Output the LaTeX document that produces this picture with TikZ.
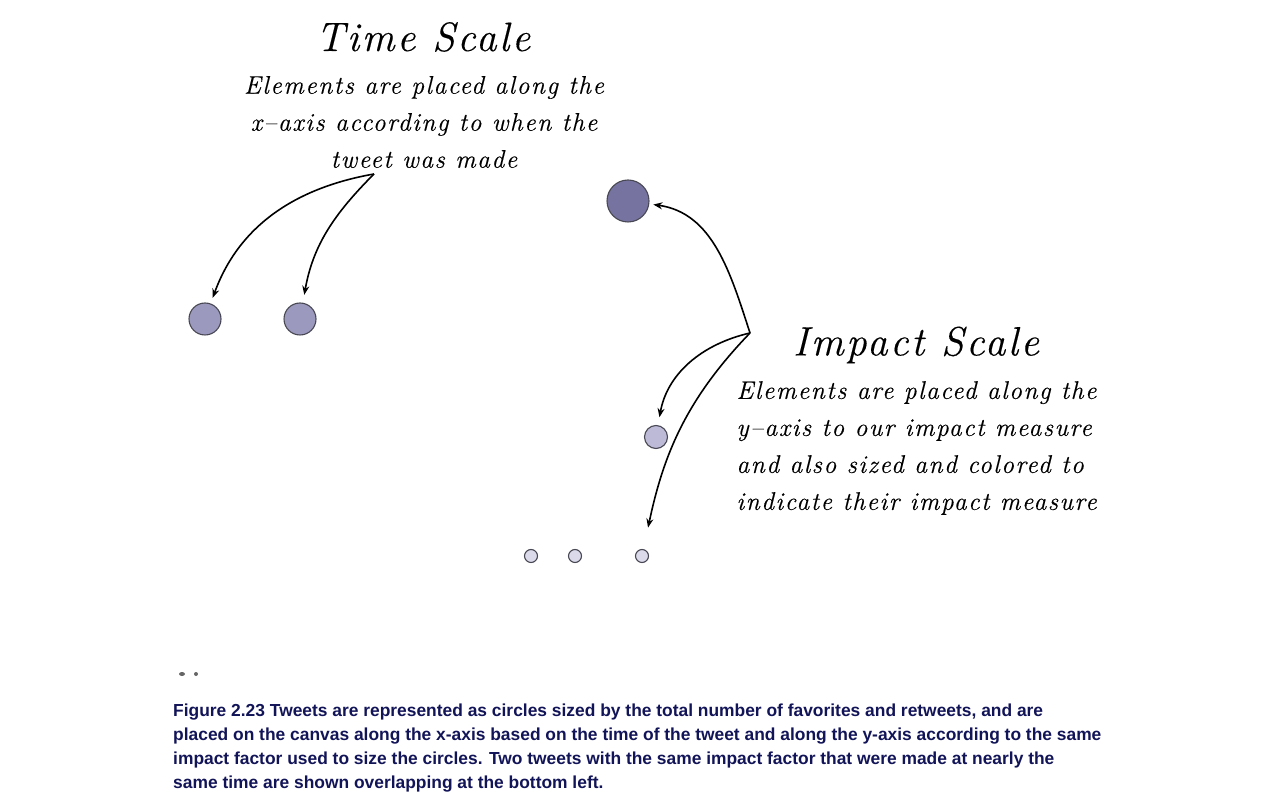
\documentclass[tikz,border=0pt]{standalone}
\usepackage{fontspec}
\usepackage{tikz}
\usetikzlibrary{positioning, arrows.meta}
\newfontfamily\sketchfont[LetterSpace=6, FakeBold=0.3]{Latin Modern Roman}
\newfontfamily\capfont{Liberation Sans}
\definecolor{tweetdark}{RGB}{118,115,160}
\definecolor{tweetmid}{RGB}{156,153,190}
\definecolor{tweetlight}{RGB}{188,186,214}
\definecolor{tweetpale}{RGB}{219,218,235}
\definecolor{tweetedge}{RGB}{72,72,84}
\definecolor{capblue}{RGB}{18,20,88}

\begin{document}
\begin{tikzpicture}[x=1pt, y=1pt, >=Stealth,
    tweet/.style={circle, draw=tweetedge, line width=1.1pt, inner sep=0pt},
    pointer/.style={->, line width=1.6pt, >={Stealth[length=9pt, width=7pt]}},
    title/.style={font=\sketchfont\itshape\fontsize{41}{46}\selectfont},
    note/.style={font=\sketchfont\itshape\fontsize{25.5}{37}\selectfont}]

  \useasboundingbox (0,0) rectangle (1280,804);

  % time scale
  \node[title] (tstitle) at (423,767) {Time Scale};
  \node[note, align=center] (tsnote) at (424,682)
    {Elements are placed along the\\ x–axis according to when the\\ tweet was made};
  \coordinate (ts) at (374,630);

  \node[tweet, fill=tweetmid, minimum size=32pt] (c1) at (205,485) {};
  \node[tweet, fill=tweetmid, minimum size=32pt] (c2) at (300,485) {};

  \draw[pointer, shorten >=6pt] (ts) to[out=190, in=70] (c1);
  \draw[pointer, shorten >=8pt] (ts) to[out=225, in=80] (c2);

  % impact scale
  \node[title] (istitle) at (916,459) {Impact Scale};
  \node[note, align=left, anchor=west] (isnote) at (733,356)
    {Elements are placed along the\\ y–axis to our impact measure\\ and also sized and colored to\\ indicate their impact measure};
  \coordinate (is) at (750,471);

  \node[tweet, fill=tweetdark, minimum size=42pt] (c3) at (628,603) {};
  \node[tweet, fill=tweetlight, minimum size=23pt] (c4) at (656,367) {};
  \node[tweet, fill=tweetpale, minimum size=13pt] (c5) at (531,248) {};
  \node[tweet, fill=tweetpale, minimum size=13pt] (c6) at (575,248) {};
  \node[tweet, fill=tweetpale, minimum size=13pt] (c7) at (642,248) {};

  \draw[pointer, shorten >=4pt] (is) to[out=108, in=-8] (c3);
  \draw[pointer, shorten >=8pt] (is) to[out=193, in=80] (c4);
  \draw[pointer, shorten >=22pt] (is) to[out=226, in=78] (c7);

  % overlapping tweets
  \fill[gray!80!black] (182,130) ellipse (3pt and 2pt);
  \fill[gray!80!black] (196,130) circle (2pt);

  \node[anchor=west, align=left, text=capblue, inner sep=0pt,
        font=\capfont\bfseries\fontsize{17.4}{24.3}\selectfont] (caption) at (173,56)
    {Figure 2.23 Tweets are represented as circles sized by the total number of favorites and retweets, and are\\
     placed on the canvas along the x-axis based on the time of the tweet and along the y-axis according to the same\\
     impact factor used to size the circles. Two tweets with the same impact factor that were made at nearly the\\
     same time are shown overlapping at the bottom left.};

\end{tikzpicture}
\end{document}
